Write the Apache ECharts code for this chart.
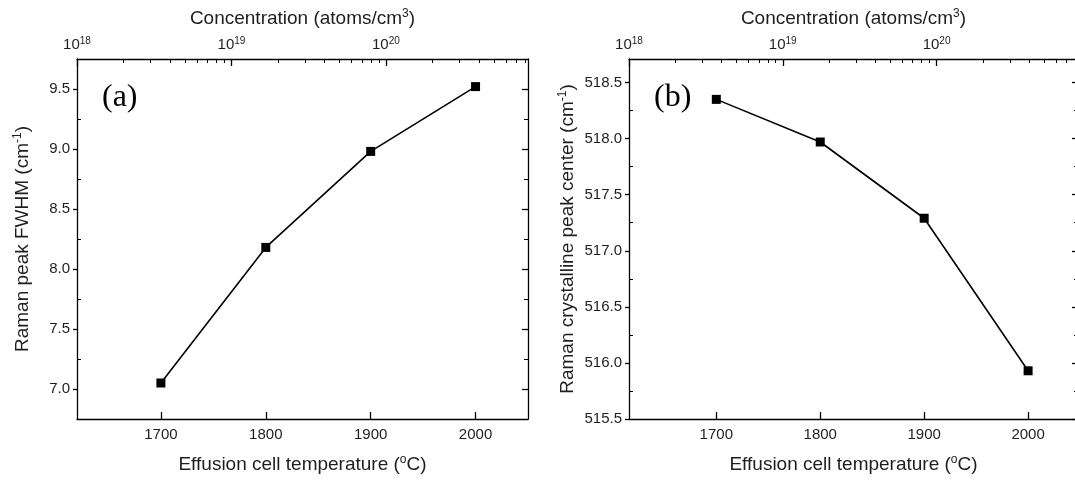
<!DOCTYPE html>
<html>
<head>
<meta charset="utf-8">
<script src="https://cdn.jsdelivr.net/npm/echarts@6/dist/echarts.min.js"></script>
<style>
  html, body { margin: 0; padding: 0; background: #fff; }
  #chart { width: 1075px; height: 480px; }
</style>
</head>
<body>
<div id="chart"></div>
<script>
// Effusion cell temperature (°C) and the two Raman quantities measured at each
const temperatures = [1700, 1800, 1900, 2000];
const fwhm = [7.05, 8.18, 8.98, 9.52];
const peakCenter = [518.35, 517.97, 517.29, 515.93];

// Tick positions
const tempTicks = [1700, 1800, 1900, 2000];
const fwhmTicks = [7.0, 7.5, 8.0, 8.5, 9.0, 9.5];
const fwhmMinor = [7.25, 7.75, 8.25, 8.75, 9.25];
const centerTicks = [515.5, 516.0, 516.5, 517.0, 517.5, 518.0, 518.5];
const centerMinor = [515.75, 516.25, 516.75, 517.25, 517.75, 518.25];
// Concentration axis: decades as log10(atoms/cm3)
const concDecades = [18, 19, 20];
const concMantissas = [2, 3, 4, 5, 6, 7, 8, 9];

// Axis ranges of the two panels
const tempRangeA = [1620, 2050];
const tempRangeB = [1616, 2048];
const fwhmRange = [6.75, 9.75];
const centerRange = [515.5, 518.71];
const LOGC_MIN = 18, LOGC_MAX = 20.92;

const concMinor = [];
concDecades.forEach(d => concMantissas.forEach(m => {
  const v = d + Math.log10(m);
  if (v < LOGC_MAX) concMinor.push(v);
}));

const FONT = 'Liberation Sans, Arial, sans-serif';
const INK = '#1e1e1e';
const LABEL = { fontFamily: FONT, fontSize: 15, color: INK };
const NAME = { fontFamily: FONT, fontSize: 19, color: INK };
const SUP = { fontFamily: FONT, fontSize: 12, color: INK, verticalAlign: 'top', lineHeight: 22 };
const LINE = { lineStyle: { color: '#000', width: 1.3 } };

function xAxesFor(grid, tempRange) {
  return [
    { // temperature, bottom
      gridIndex: grid, type: 'value', position: 'bottom',
      min: tempRange[0], max: tempRange[1],
      axisLine: LINE,
      axisTick: { customValues: tempTicks, inside: true, length: 7, lineStyle: { color: '#000', width: 1.3 } },
      axisLabel: Object.assign({ customValues: tempTicks, margin: 8, formatter: v => String(v) }, LABEL),
      splitLine: { show: false },
      name: 'Effusion cell temperature ({s|o}C)', nameLocation: 'middle', nameGap: 35,
      nameTextStyle: Object.assign({ rich: { s: SUP } }, NAME)
    },
    { // concentration, top (major ticks + labels)
      gridIndex: grid, type: 'value', position: 'top',
      min: LOGC_MIN, max: LOGC_MAX,
      axisLine: LINE,
      axisTick: { customValues: concDecades, inside: true, length: 7, lineStyle: { color: '#000', width: 1.3 } },
      axisLabel: Object.assign({
        customValues: concDecades, margin: 5,
        formatter: v => '10{s|' + v + '}',
        rich: { s: { fontFamily: FONT, fontSize: 10, color: INK, verticalAlign: 'top', lineHeight: 18 } }
      }, LABEL),
      splitLine: { show: false },
      name: 'Concentration (atoms/cm{s|3})', nameLocation: 'middle', nameGap: 29,
      nameTextStyle: Object.assign({ rich: { s: SUP } }, NAME)
    },
    { // concentration, top (minor ticks)
      gridIndex: grid, type: 'value', position: 'top',
      min: LOGC_MIN, max: LOGC_MAX,
      axisLine: { show: false },
      axisTick: { customValues: concMinor, inside: true, length: 4, lineStyle: { color: '#000', width: 1 } },
      axisLabel: { show: false },
      splitLine: { show: false }
    }
  ];
}

function yAxesFor(grid, range, major, minor, name, gap) {
  const base = { gridIndex: grid, type: 'value', min: range[0], max: range[1], splitLine: { show: false } };
  return [
    Object.assign({}, base, { // left, labelled
      position: 'left',
      axisLine: LINE,
      axisTick: { customValues: major, inside: false, length: 4, lineStyle: { color: '#000', width: 1.3 } },
      axisLabel: Object.assign({ customValues: major, margin: 7, formatter: v => v.toFixed(1) }, LABEL),
      name: name, nameLocation: 'middle', nameGap: gap, nameRotate: 90,
      nameTextStyle: Object.assign({ rich: { s: SUP } }, NAME)
    }),
    Object.assign({}, base, { // left, minor ticks
      position: 'left',
      axisLine: { show: false },
      axisTick: { customValues: minor, inside: true, length: 4, lineStyle: { color: '#000', width: 1 } },
      axisLabel: { show: false }
    }),
    Object.assign({}, base, { // right frame, major ticks
      position: 'right',
      axisLine: LINE,
      axisTick: { customValues: major, inside: true, length: 6, lineStyle: { color: '#000', width: 1.3 } },
      axisLabel: { show: false }
    }),
    Object.assign({}, base, { // right frame, minor ticks
      position: 'right',
      axisLine: { show: false },
      axisTick: { customValues: minor, inside: true, length: 4, lineStyle: { color: '#000', width: 1 } },
      axisLabel: { show: false }
    })
  ];
}

function seriesFor(xIdx, yIdx, values) {
  return {
    type: 'line', xAxisIndex: xIdx, yAxisIndex: yIdx,
    data: temperatures.map((t, i) => [t, values[i]]),
    symbol: 'rect', symbolSize: 9,
    itemStyle: { color: '#000' },
    lineStyle: { color: '#000', width: 1.6 },
    silent: true, animation: false
  };
}

const chart = echarts.init(document.getElementById('chart'), null, { renderer: 'canvas' });
chart.setOption({
  backgroundColor: '#fff',
  animation: false,
  grid: [
    { left: 77, top: 59, width: 451, height: 360, outerBoundsMode: 'none' },
    { left: 629, top: 59, width: 449, height: 360, outerBoundsMode: 'none' }
  ],
  xAxis: xAxesFor(0, tempRangeA).concat(xAxesFor(1, tempRangeB)),
  yAxis: yAxesFor(0, fwhmRange, fwhmTicks, fwhmMinor, 'Raman peak FWHM (cm{s|-1})', 43)
    .concat(yAxesFor(1, centerRange, centerTicks, centerMinor, 'Raman crystalline peak center (cm{s|-1})', 50)),
  series: [
    seriesFor(0, 0, fwhm),
    seriesFor(3, 4, peakCenter)
  ],
  graphic: [
    { type: 'text', left: 102, top: 82, style: { text: '(a)', font: '32px "Liberation Serif", "Times New Roman", serif', fill: '#000' } },
    { type: 'text', left: 654, top: 82, style: { text: '(b)', font: '32px "Liberation Serif", "Times New Roman", serif', fill: '#000' } }
  ]
});
</script>
</body>
</html>
